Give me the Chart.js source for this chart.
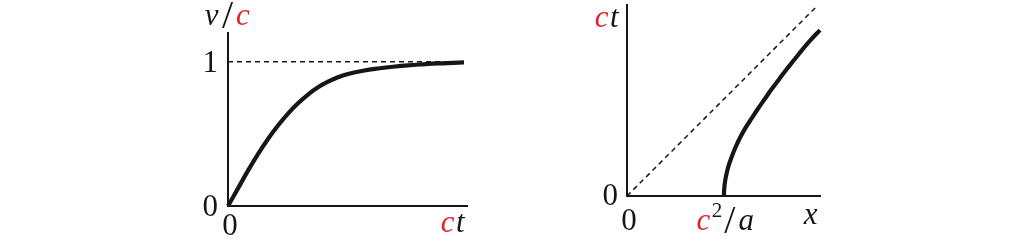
<!DOCTYPE html>
<html>
<head>
<meta charset="utf-8">
<script src="https://cdn.jsdelivr.net/npm/chart.js@4/dist/chart.umd.min.js"></script>
<style>
  html, body { margin: 0; padding: 0; background: #ffffff; }
  canvas { position: absolute; left: 0; top: 0; }
</style>
</head>
<body>
<canvas id="left" width="1024" height="241"></canvas>
<canvas id="right" width="1024" height="241"></canvas>
<script>
// ---- Left panel: v/c versus ct ----
const leftTime     = [0, 0.1, 0.2, 0.3, 0.4, 0.5, 0.6, 0.7, 0.8, 0.9, 1.0, 1.1, 1.2, 1.35, 1.5, 1.65, 1.8, 1.95, 2.1, 2.25, 2.36];
const leftVelocity = [0, 0.122, 0.245, 0.36, 0.465, 0.558, 0.641, 0.712, 0.773, 0.823, 0.862, 0.893, 0.915, 0.938, 0.954, 0.966, 0.976, 0.983, 0.989, 0.993, 0.996];
const leftLimitX   = [0, 2.36];
const leftLimitY   = [1, 1];
const leftXTickValues = [0];
const leftXTickLabels = ['0'];
const leftYTickValues = [0, 1];
const leftYTickLabels = ['0', '1'];
const leftXTitle = 'ct';
const leftYTitle = 'v/c';

// ---- Right panel: ct versus x ----
const rightX  = [1.0, 1.001, 1.005, 1.011, 1.02, 1.044, 1.078, 1.118, 1.165, 1.22, 1.285, 1.35, 1.42, 1.49, 1.565, 1.64, 1.72, 1.80, 1.885, 1.99];
const rightCt = [0, 0.05, 0.1, 0.15, 0.2, 0.3, 0.4, 0.5, 0.6, 0.7, 0.8, 0.9, 1.0, 1.1, 1.2, 1.3, 1.4, 1.5, 1.6, 1.711];
const rightLightX  = [0, 1.94];
const rightLightCt = [0, 1.94];
const rightXTickValues = [0, 1];
const rightXTickLabels = ['0', 'c^2/a'];
const rightYTickValues = [0];
const rightYTickLabels = ['0'];
const rightXTitle = 'x';
const rightYTitle = 'ct';

const RED = '#e3202a';
const INK = '#161616';
const FONT = '"Liberation Serif", serif';
const SIZE = 31;

function tokens(str) {
  const out = [];
  for (let i = 0; i < str.length; i++) {
    let ch = str[i], sup = false;
    if (ch === '^') { sup = true; ch = str[++i]; }
    const italic = /[a-z]/.test(ch);
    out.push({ ch, sup, italic, color: ch === 'c' ? RED : INK,
      scale: ch === '/' ? 1.3 : 1, padL: ch === '/' ? 2 : 0, padR: ch === '/' ? 3 : (italic ? 1.5 : 0) });
  }
  return out;
}
function fontOf(t) {
  const s = Math.round((t.sup ? SIZE * 0.68 : SIZE) * t.scale);
  return (t.italic ? 'italic ' : '') + s + 'px ' + FONT;
}
function drawMath(ctx, str, x, y, align) {
  const toks = tokens(str);
  let w = 0;
  toks.forEach(t => { ctx.font = fontOf(t); t.w = ctx.measureText(t.ch).width; w += t.w + t.padL + t.padR; });
  let cx = align === 'center' ? x - w / 2 : align === 'right' ? x - w : x;
  ctx.save();
  ctx.textBaseline = 'alphabetic';
  ctx.textAlign = 'left';
  toks.forEach(t => {
    ctx.font = fontOf(t);
    ctx.fillStyle = t.color;
    cx += t.padL;
    const dy = t.sup ? -SIZE * 0.42 : (t.ch === '/' ? SIZE * 0.1 : 0);
    ctx.fillText(t.ch, cx, y + dy);
    cx += t.w + t.padR;
  });
  ctx.restore();
}

function labelPlugin(spec) {
  return {
    id: 'mathLabels',
    afterDraw(chart) {
      const { ctx, chartArea: a, scales } = chart;
      spec.xVals.forEach((v, i) => drawMath(ctx, spec.xLabels[i], scales.x.getPixelForValue(v) + spec.xTickDx, a.bottom + spec.xTickDy, 'center'));
      spec.yVals.forEach((v, i) => drawMath(ctx, spec.yLabels[i], a.left - spec.yTickDx, scales.y.getPixelForValue(v) + spec.yTickDy, 'right'));
      drawMath(ctx, spec.xTitle, a.right + spec.xTitlePos[0], a.bottom + spec.xTitlePos[1], 'right');
      drawMath(ctx, spec.yTitle, a.left + spec.yTitlePos[0], a.top + spec.yTitlePos[1], spec.yTitleAlign);
    }
  };
}

function axisOpts(min, max, isX) {
  return {
    type: 'linear', min, max,
    grid: { display: false, drawTicks: false },
    border: { display: true, color: INK, width: 2 },
    ticks: { display: false },
    afterFit(s) { if (isX) s.height = 0; else s.width = 0; }
  };
}

function makeChart(id, curve, dashed, pad, xr, yr, spec) {
  return new Chart(document.getElementById(id), {
    type: 'scatter',
    data: {
      datasets: [
        { data: curve, showLine: true, borderColor: INK, borderWidth: 4.2, pointRadius: 0,
          tension: 0.4, clip: false, borderCapStyle: 'butt' },
        { data: dashed, showLine: true, borderColor: INK, borderWidth: 1.5, borderDash: [5, 4],
          pointRadius: 0, clip: false }
      ]
    },
    options: {
      responsive: false, animation: false, events: [],
      layout: { padding: pad },
      plugins: { legend: { display: false }, tooltip: { enabled: false } },
      scales: { x: axisOpts(xr[0], xr[1], true), y: axisOpts(yr[0], yr[1], false) }
    },
    plugins: [labelPlugin(spec)]
  });
}

function build() {
  makeChart('left',
    leftTime.map((t, i) => ({ x: t, y: leftVelocity[i] })),
    leftLimitX.map((t, i) => ({ x: t, y: leftLimitY[i] })),
    { left: 228, right: 557, top: 33, bottom: 35 },
    [0, 2.39], [0, 1.2],
    { xVals: leftXTickValues, xLabels: leftXTickLabels, xTickDx: 2, xTickDy: 29,
      yVals: leftYTickValues, yLabels: leftYTickLabels, yTickDx: 10, yTickDy: 10,
      xTitle: leftXTitle, xTitlePos: [-1, 26], yTitle: leftYTitle, yTitlePos: [0, -8], yTitleAlign: 'center' });

  makeChart('right',
    rightX.map((x, i) => ({ x, y: rightCt[i] })),
    rightLightX.map((x, i) => ({ x, y: rightLightCt[i] })),
    { left: 627, right: 204, top: 5, bottom: 45 },
    [0, 1.99], [0, 1.97],
    { xVals: rightXTickValues, xLabels: rightXTickLabels, xTickDx: 2, xTickDy: 34,
      yVals: rightYTickValues, yLabels: rightYTickLabels, yTickDx: 9, yTickDy: 9,
      xTitle: rightXTitle, xTitlePos: [-1, 28], yTitle: rightYTitle, yTitlePos: [-7, 22], yTitleAlign: 'right' });
}

Promise.all([
  document.fonts.load('31px "Liberation Serif"'),
  document.fonts.load('italic 31px "Liberation Serif"')
]).then(build, build);
</script>
</body>
</html>
